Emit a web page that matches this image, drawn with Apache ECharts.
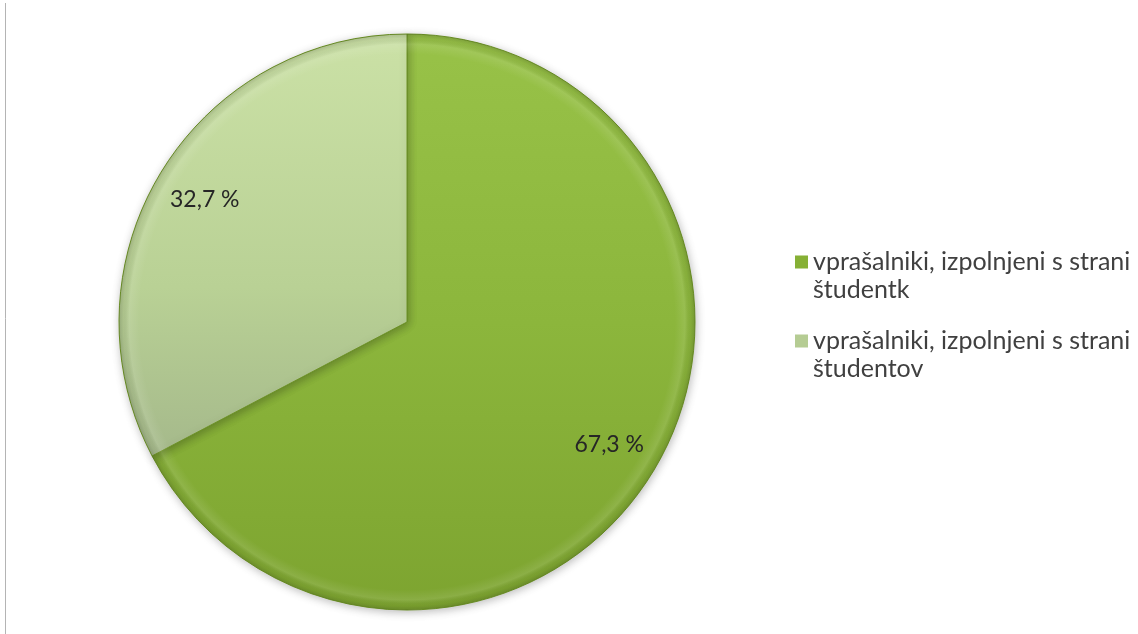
<!DOCTYPE html>
<html>
<head>
<meta charset="utf-8">
<style>
  html, body { margin: 0; padding: 0; background: #ffffff; }
  #chart { width: 1138px; height: 634px; }
</style>
<script src="https://cdn.jsdelivr.net/npm/echarts@6/dist/echarts.min.js"></script>
</head>
<body>
<div id="chart"></div>
<script>
// Questionnaires by who filled them in (share, %)
const categories = [
  'vprašalniki, izpolnjeni s strani študentk',
  'vprašalniki, izpolnjeni s strani študentov'
];
const shares = [67.3, 32.7];

const FONT = 'Lato, "Open Sans", sans-serif';
const CENTER = [407, 322];
const R = 288;

const fills = [
  new echarts.graphic.LinearGradient(0, 0, 0, 1, [
    { offset: 0, color: '#98c248' },
    { offset: 0.5, color: '#8cb63c' },
    { offset: 1, color: '#7da430' }
  ]),
  new echarts.graphic.LinearGradient(0, 0, 0, 1, [
    { offset: 0, color: '#cbe1a6' },
    { offset: 0.6, color: '#b9d195' },
    { offset: 1, color: '#a5b98b' }
  ])
];
const legendIcons = ['#86b035', '#b5cc93'];

// soft bevel at the rim of the pie
const rimShade = new echarts.graphic.RadialGradient(CENTER[0], CENTER[1], R, [
  { offset: 0, color: 'rgba(255,255,255,0)' },
  { offset: 0.93, color: 'rgba(255,255,255,0)' },
  { offset: 0.965, color: 'rgba(255,255,255,0.10)' },
  { offset: 0.985, color: 'rgba(0,0,0,0.04)' },
  { offset: 1, color: 'rgba(0,0,0,0.14)' }
], true);

// square at the top of a tall box, so the icon sits beside the first text line
const legendIcon = 'path://M0,0H13V13H0Z M0,41L0.01,41';

const data = categories.map((name, i) => ({
  name,
  value: shares[i],
  itemStyle: { color: fills[i] }
}));

const fmtPct = p => p.value.toFixed(1).replace('.', ',') + ' %';

const chart = echarts.init(document.getElementById('chart'), null, { renderer: 'canvas' });
chart.setOption({
  animation: false,
  backgroundColor: '#ffffff',
  color: legendIcons,
  legend: {
    orient: 'vertical',
    left: 790,
    top: 243,
    itemWidth: 13,
    itemHeight: 41,
    itemGap: 23,
    icon: legendIcon,
    data: categories.map((name, i) => ({
      name,
      itemStyle: { color: legendIcons[i], borderWidth: 0 }
    })),
    formatter: name => name.replace(/ (?=\S+$)/, '\n'),
    textStyle: {
      fontFamily: FONT,
      fontSize: 25,
      color: '#404040',
      lineHeight: 28
    }
  },
  graphic: [{
    type: 'line',
    shape: { x1: 5.5, y1: 3, x2: 5.5, y2: 634 },
    style: { stroke: '#b4b4b4', lineWidth: 1 },
    silent: true
  }],
  series: [
    {
      // filled pie
      type: 'pie',
      center: CENTER,
      radius: R,
      startAngle: 90,
      clockwise: true,
      silent: true,
      label: { show: false },
      labelLine: { show: false },
      itemStyle: {
        borderColor: '#6e9426',
        borderWidth: 1,
        shadowBlur: 8,
        shadowColor: 'rgba(0,0,0,0.25)',
        shadowOffsetX: 1,
        shadowOffsetY: 2
      },
      data: data
    },
    {
      // rim shading overlay
      type: 'pie',
      center: CENTER,
      radius: R,
      startAngle: 90,
      clockwise: true,
      silent: true,
      legendHoverLink: false,
      itemStyle: { color: rimShade, borderWidth: 0 },
      label: { show: false },
      labelLine: { show: false },
      data: categories.map((name, i) => ({ name, value: shares[i] }))
    },
    {
      // percentage labels, set toward the rim
      type: 'pie',
      center: CENTER,
      radius: [R * 0.62, R],
      startAngle: 90,
      clockwise: true,
      silent: true,
      legendHoverLink: false,
      itemStyle: { color: 'rgba(0,0,0,0)', borderWidth: 0 },
      label: {
        show: true,
        position: 'inside',
        formatter: fmtPct,
        fontFamily: FONT,
        fontSize: 23,
        color: '#262626'
      },
      labelLine: { show: false },
      data: categories.map((name, i) => ({ name, value: shares[i] }))
    }
  ]
});
</script>
</body>
</html>
